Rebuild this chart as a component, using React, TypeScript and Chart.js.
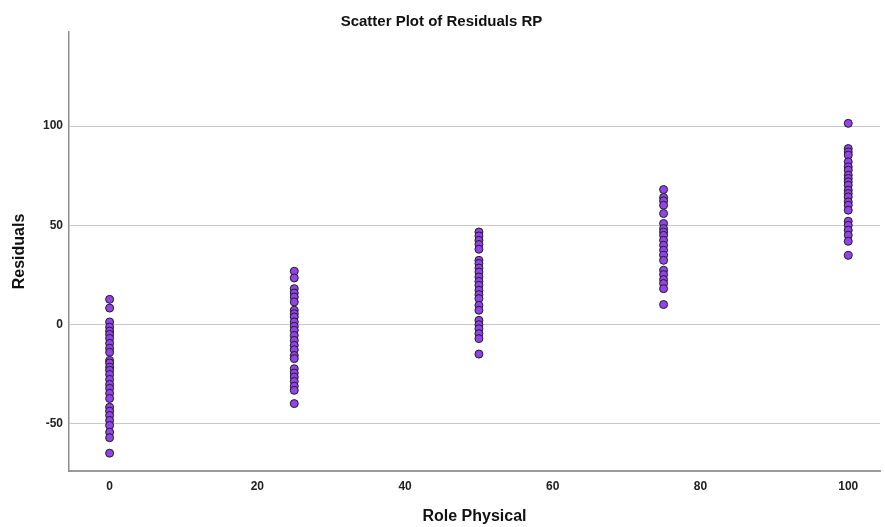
import React, { useEffect, useRef } from "react";
import { Chart, registerables } from "chart.js";

Chart.register(...registerables);

const chartTitle = "Scatter Plot of Residuals RP";
const xAxisTitle = "Role Physical";
const yAxisTitle = "Residuals";

const xTicks = [0, 20, 40, 60, 80, 100];
const yTicks = [-50, 0, 50, 100];

const rp0 = [12.6, 8.2, 1.2, -1.4, -3.4, -5.1, -7.1, -9.6, -12.1, -14.1, -18.2, -19.5, -21.6, -23.2, -25.3, -27.8, -30.3, -32.3, -34.8, -37.4, -41.8, -43.8, -46, -48.5, -51, -54.4, -57.2, -65];
const rp25 = [26.8, 23.4, 18, 15.8, 13.8, 11.3, 7.1, 5.4, 3.7, 1.2, -1, -3, -5.6, -8.1, -10.6, -12.8, -15.7, -17.3, -22.4, -24.6, -26.6, -28.8, -31.2, -33.3, -40];
const rp50 = [46.6, 44.6, 42.4, 40.3, 37.9, 32.3, 30.7, 28.4, 26.4, 23.9, 21.7, 19.7, 17.2, 15, 13, 9.6, 7.1, 2, -0.2, -2.2, -4.7, -7.2, -15];
const rp75 = [68, 64, 62.3, 60.1, 55.9, 50.9, 48.3, 46.6, 44.9, 42.4, 39.9, 37.4, 34.8, 32.3, 27.3, 25.1, 22.6, 20.6, 18, 10];
const rp100 = [101.4, 88.7, 87, 85.4, 82, 79.5, 77.8, 75.3, 73.6, 71.9, 70.2, 67.7, 66, 64.3, 61.8, 60.1, 57.6, 52, 50, 47.5, 45, 41.9, 34.8];

const groupX = [0, 25, 50, 75, 100];
const groupResiduals = [rp0, rp25, rp50, rp75, rp100];

const FONT = "'Liberation Sans', Arial, Helvetica, sans-serif";

export default function App() {
  const ref = useRef<HTMLCanvasElement | null>(null);

  useEffect(() => {
    document.body.style.margin = "0";
    const canvas = ref.current;
    if (!canvas) return;
    const points: { x: number; y: number }[] = [];
    groupX.forEach((gx, i) => {
      groupResiduals[i].forEach((r) => points.push({ x: gx, y: r }));
    });

    const chart = new Chart(canvas, {
      type: "scatter",
      data: {
        datasets: [
          {
            data: points,
            backgroundColor: "#9342ec",
            borderColor: "#1e1e1e",
            borderWidth: 1,
            pointRadius: 4,
            pointHoverRadius: 4,
          },
        ],
      },
      options: {
        animation: false,
        responsive: false,
        maintainAspectRatio: false,
        layout: { padding: { left: 0, right: 2, top: 0, bottom: 0 } },
        plugins: {
          legend: { display: false },
          tooltip: { enabled: false },
          title: {
            display: true,
            text: chartTitle,
            color: "#111",
            font: { family: FONT, size: 15, weight: "bold", lineHeight: 1.2 },
            padding: { top: 13, bottom: 1 },
          },
        },
        scales: {
          x: {
            type: "linear",
            min: -5.5,
            max: 104.3,
            afterBuildTicks: (scale: any) => {
              scale.ticks = xTicks.map((v) => ({ value: v }));
            },
            afterFit: (scale: any) => {
              scale.height = 56;
            },
            grid: { display: false, drawTicks: false },
            border: { display: true, color: "#9a9a9a", width: 2 },
            ticks: {
              padding: 8,
              color: "#222",
              maxRotation: 0,
              font: { family: FONT, size: 12, weight: "bold" },
            },
            title: {
              display: true,
              text: xAxisTitle,
              color: "#111",
              font: { family: FONT, size: 16, weight: "bold", lineHeight: 1.2 },
              padding: { top: 0, bottom: 0.5 },
            },
          },
          y: {
            type: "linear",
            min: -74,
            max: 147.5,
            afterBuildTicks: (scale: any) => {
              scale.ticks = yTicks.map((v) => ({ value: v }));
            },
            afterFit: (scale: any) => {
              scale.width = 69;
            },
            grid: { display: true, color: "#c8c8c8", lineWidth: 1, drawTicks: false },
            border: { display: true, color: "#8c8c8c", width: 1.5 },
            ticks: {
              padding: 6,
              color: "#222",
              font: { family: FONT, size: 12, weight: "bold" },
            },
            title: {
              display: true,
              text: yAxisTitle,
              color: "#111",
              font: { family: FONT, size: 16, weight: "bold", lineHeight: 1.2 },
              padding: { top: 10, bottom: 0 },
            },
          },
        },
      },
    });
    return () => chart.destroy();
  }, []);

  return (
    <div style={{ width: 885, height: 527, background: "#fff" }}>
      <canvas ref={ref} width={885} height={527} style={{ display: "block" }} />
    </div>
  );
}
